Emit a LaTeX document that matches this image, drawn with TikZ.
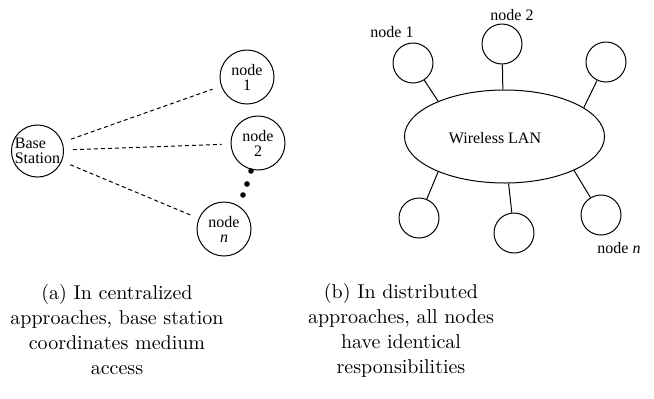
\documentclass[tikz,border=0pt]{standalone}
\usepackage{fontspec}
\newfontfamily\figfont{Liberation Serif}
\usetikzlibrary{shapes.geometric,positioning}

\begin{document}
\begin{tikzpicture}[x=0.5pt,y=-0.5pt,line width=0.5pt,
  every node/.style={font=\figfont\fontsize{8}{7.5}\selectfont},
  st/.style={circle,draw,inner sep=0pt,minimum size=27pt,align=center},
  bst/.style={circle,draw,inner sep=0pt,minimum size=25pt,align=left},
  mn/.style={circle,draw,inner sep=0pt,minimum size=20pt},
  link/.style={dash pattern=on 2pt off 1.5pt,shorten <=4.5pt,shorten >=4.5pt},
  capt/.style={font=\fontsize{10}{12.5}\selectfont,align=center}]
        \useasboundingbox (0,0) rectangle (654,398);
        % (a) centralized
        \node [bst] (bs) at (37.5,151) {Base\\Station};
        \node [st] (s1) at (247,77) {node\\1};
        \node [st] (s2) at (258,143) {node\\2};
        \node [st] (sn) at (224,229) {node\\{\itshape n}};
        \draw [link] (bs) -- (s1);
        \draw [link] (bs) -- (s2);
        \draw [link] (bs) -- (sn);
        \fill (251,171) circle (1.4pt);
        \fill (247,184) circle (1.4pt);
        \fill (243,195) circle (1.4pt);
        % (b) distributed
        \node [ellipse,draw,minimum width=100pt,minimum height=46.5pt] (lan) at (504.5,136.5) {};
        \node (lbl) at (495,138) {Wireless LAN};
        \node [mn] (d1) at (413,63) {};
        \node [mn] (d2) at (502,44) {};
        \node [mn] (d3) at (606,62) {};
        \node [mn] (d4) at (419,218) {};
        \node [mn] (d5) at (514,233) {};
        \node [mn] (d6) at (601,215) {};
        \draw (d1) -- (lan.152);
        \draw (d2) -- (lan.92);
        \draw (d3) -- (lan.20);
        \draw (d4) -- (lan.208);
        \draw (d5) -- (lan.275);
        \draw (d6) -- (lan.334);
        \node (t1) at (392,32) {node 1};
        \node (t2) at (512,15) {node 2};
        \node (tn) at (619,248) {node {\itshape n}};
        % captions
        \node [capt] (ca) at (117,330) {(a) In centralized\\approaches, base station\\coordinates medium\\access};
        \node [capt] (cb) at (401,330) {(b) In distributed\\approaches, all nodes\\have identical\\responsibilities};
\end{tikzpicture}
\end{document}
